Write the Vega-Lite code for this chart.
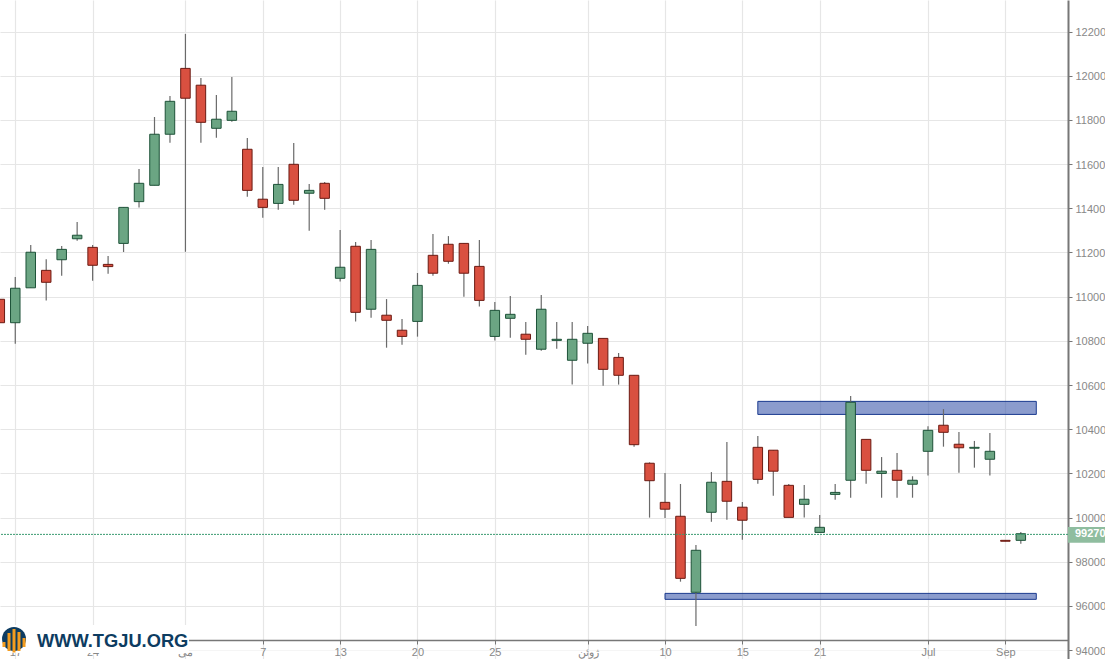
{
"$schema":"https://vega.github.io/schema/vega-lite/v6.json",
"width":1068,"height":659,
"autosize":{"type":"none"},
"padding":{"left":0,"top":0,"right":37,"bottom":0},
"background":"#ffffff",
"view":{"stroke":null},
"config":{"font":"Liberation Sans"},
"datasets":{
"candles":[
{"i":0,"o":109880,"h":109880,"l":108820,"c":108820,"d":"down"},
{"i":1,"o":108820,"h":110890,"l":107870,"c":110380,"d":"up"},
{"i":2,"o":110400,"h":112340,"l":110400,"c":112010,"d":"up"},
{"i":3,"o":111190,"h":111690,"l":109820,"c":110650,"d":"down"},
{"i":4,"o":111670,"h":112290,"l":110950,"c":112140,"d":"up"},
{"i":5,"o":112620,"h":113380,"l":112530,"c":112780,"d":"up"},
{"i":6,"o":112230,"h":112340,"l":110720,"c":111420,"d":"down"},
{"i":7,"o":111460,"h":111840,"l":111040,"c":111360,"d":"down"},
{"i":8,"o":112410,"h":114040,"l":112020,"c":114040,"d":"up"},
{"i":9,"o":114300,"h":115780,"l":114030,"c":115130,"d":"up"},
{"i":10,"o":115040,"h":118130,"l":115040,"c":117350,"d":"up"},
{"i":11,"o":117350,"h":119080,"l":116970,"c":118840,"d":"up"},
{"i":12,"o":120330,"h":121890,"l":112030,"c":118980,"d":"down"},
{"i":13,"o":119570,"h":119900,"l":116970,"c":117890,"d":"down"},
{"i":14,"o":117620,"h":119130,"l":117190,"c":118030,"d":"up"},
{"i":15,"o":117980,"h":119940,"l":117920,"c":118390,"d":"up"},
{"i":16,"o":116670,"h":117180,"l":114520,"c":114810,"d":"down"},
{"i":17,"o":114410,"h":115870,"l":113570,"c":114040,"d":"down"},
{"i":18,"o":114220,"h":115870,"l":113930,"c":115080,"d":"up"},
{"i":19,"o":115990,"h":116950,"l":114160,"c":114360,"d":"down"},
{"i":20,"o":114680,"h":115100,"l":112980,"c":114810,"d":"up"},
{"i":21,"o":115130,"h":115190,"l":113930,"c":114450,"d":"down"},
{"i":22,"o":110830,"h":113020,"l":110680,"c":111330,"d":"up"},
{"i":23,"o":112280,"h":112470,"l":108870,"c":109290,"d":"down"},
{"i":24,"o":109430,"h":112560,"l":109050,"c":112140,"d":"up"},
{"i":25,"o":109160,"h":109890,"l":107690,"c":108930,"d":"down"},
{"i":26,"o":108480,"h":108990,"l":107820,"c":108200,"d":"down"},
{"i":27,"o":108880,"h":111070,"l":108190,"c":110510,"d":"up"},
{"i":28,"o":111870,"h":112840,"l":110950,"c":111060,"d":"down"},
{"i":29,"o":112370,"h":112740,"l":111490,"c":111600,"d":"down"},
{"i":30,"o":112410,"h":112430,"l":110000,"c":111060,"d":"down"},
{"i":31,"o":111370,"h":112560,"l":109550,"c":109830,"d":"down"},
{"i":32,"o":108200,"h":109760,"l":108010,"c":109380,"d":"up"},
{"i":33,"o":109020,"h":110030,"l":108140,"c":109200,"d":"up"},
{"i":34,"o":108300,"h":108850,"l":107370,"c":108070,"d":"down"},
{"i":35,"o":107620,"h":110070,"l":107550,"c":109430,"d":"up"},
{"i":36,"o":108020,"h":108850,"l":107640,"c":108070,"d":"up"},
{"i":37,"o":107120,"h":108850,"l":106020,"c":108070,"d":"up"},
{"i":38,"o":107890,"h":108670,"l":106970,"c":108340,"d":"up"},
{"i":39,"o":108110,"h":108110,"l":105970,"c":106710,"d":"down"},
{"i":40,"o":107250,"h":107450,"l":106020,"c":106440,"d":"down"},
{"i":41,"o":106440,"h":106440,"l":103210,"c":103300,"d":"down"},
{"i":42,"o":102460,"h":102500,"l":100000,"c":101670,"d":"down"},
{"i":43,"o":100690,"h":102020,"l":99980,"c":100380,"d":"down"},
{"i":44,"o":100060,"h":101520,"l":97100,"c":97250,"d":"down"},
{"i":45,"o":96620,"h":98760,"l":95090,"c":98520,"d":"up"},
{"i":46,"o":100240,"h":102060,"l":99810,"c":101600,"d":"up"},
{"i":47,"o":101640,"h":103420,"l":99900,"c":100740,"d":"down"},
{"i":48,"o":100470,"h":100710,"l":99000,"c":99880,"d":"down"},
{"i":49,"o":103180,"h":103690,"l":101530,"c":101730,"d":"down"},
{"i":50,"o":103050,"h":103060,"l":100990,"c":102100,"d":"down"},
{"i":51,"o":101460,"h":101520,"l":100010,"c":100010,"d":"down"},
{"i":52,"o":100600,"h":101470,"l":100000,"c":100830,"d":"up"},
{"i":53,"o":99330,"h":100120,"l":99330,"c":99560,"d":"up"},
{"i":54,"o":101050,"h":101520,"l":100810,"c":101140,"d":"up"},
{"i":55,"o":101690,"h":105500,"l":100900,"c":105220,"d":"up"},
{"i":56,"o":103540,"h":103540,"l":101530,"c":102140,"d":"down"},
{"i":57,"o":102000,"h":102740,"l":100900,"c":102100,"d":"up"},
{"i":58,"o":102140,"h":102920,"l":100900,"c":101690,"d":"down"},
{"i":59,"o":101510,"h":101870,"l":100900,"c":101690,"d":"up"},
{"i":60,"o":103000,"h":104130,"l":101900,"c":103950,"d":"up"},
{"i":61,"o":104180,"h":104910,"l":103210,"c":103860,"d":"down"},
{"i":62,"o":103320,"h":103870,"l":102030,"c":103160,"d":"down"},
{"i":63,"o":103140,"h":103470,"l":102260,"c":103180,"d":"up"},
{"i":64,"o":102640,"h":103830,"l":101900,"c":103000,"d":"up"},
{"i":65,"o":98970,"h":98970,"l":98930,"c":98930,"d":"down"},
{"i":66,"o":98970,"h":99350,"l":98820,"c":99270,"d":"up"}
],
"zones":[
{"a":49,"b":67,"lo":104670,"hi":105260},
{"a":43,"b":67,"lo":96300,"hi":96570}
],
"last":[{"price":99240,"a":69.05,"b":72,"lo":98860,"hi":99570,"t":69.5,"label":"99270"}],
"mask":[{"a":-1,"b":12.23,"lo":93870,"hi":95140}],
"logoDisc":[{"i":0.918,"v":94504}],
"logoBars":[
{"i":0.27,"top":94370,"bot":94143},
{"i":0.595,"top":94776,"bot":93962},
{"i":0.918,"top":94958,"bot":93894},
{"i":1.24,"top":94822,"bot":93962},
{"i":1.565,"top":94550,"bot":94143}
],
"logoText":[{"i":2.405,"v":94143,"label":"WWW.TGJU.ORG"}]
},
"layer":[
{"data":{"name":"zones"},
 "mark":{"type":"rect","fill":"#3e5aac","fillOpacity":0.6,"stroke":"#1a3a8f","strokeWidth":1},
 "encoding":{
  "x":{"field":"a","type":"quantitative","title":null,
   "scale":{"domain":[0.013,69.05],"nice":false,"zero":false,"padding":0},
   "axis":{"orient":"bottom","offset":-19,"title":null,
    "values":[1,6,12,17,22,27,32,38,43,48,53,60,65],
    "labelExpr":"{'1':'17','6':'24','12':'می','17':'7','22':'13','27':'20','32':'25','38':'ژوئن','43':'10','48':'15','53':'21','60':'Jul','65':'Sep'}[''+datum.value]",
    "grid":true,"gridColor":"#e6e6e6","gridWidth":1.2,
    "domainColor":"#777777","domainWidth":1.5,"tickColor":"#777777","tickSize":4,
    "labelColor":"#888888","labelFontSize":11,"labelFont":"Liberation Sans","labelPadding":2,"labelOverlap":false,"labelFlush":false}},
  "x2":{"field":"b"},
  "y":{"field":"lo","type":"quantitative","title":null,
   "scale":{"domain":[93600,123426],"nice":false,"zero":false,"padding":0},
   "axis":{"orient":"right","title":null,
    "values":[94000,96000,98000,100000,102000,104000,106000,108000,110000,112000,114000,116000,118000,120000,122000],
    "labelExpr":"substring(''+datum.value,0,5)",
    "grid":true,"gridColor":{"condition":{"test":"datum.value===94000","value":"#f5f5f5"},"value":"#e6e6e6"},"gridWidth":1.2,
    "domainColor":"#777777","domainWidth":2,"tickColor":"#777777","tickSize":4,
    "labelColor":"#888888","labelFontSize":11,"labelFont":"Liberation Sans","labelPadding":3,"labelOffset":1,"labelOverlap":false,"labelFlush":false}},
  "y2":{"field":"hi"}
 }},
{"data":{"name":"candles"},
 "mark":{"type":"rule","stroke":"#6a6a6a","strokeWidth":1.2},
 "encoding":{
  "x":{"field":"i","type":"quantitative","title":null},
  "y":{"field":"l","type":"quantitative","title":null},
  "y2":{"field":"h"}
 }},
{"data":{"name":"candles"},
 "mark":{"type":"bar","size":9.5,"strokeWidth":1,"orient":"vertical"},
 "encoding":{
  "x":{"field":"i","type":"quantitative","title":null},
  "y":{"field":"o","type":"quantitative","title":null},
  "y2":{"field":"c"},
  "fill":{"field":"d","type":"nominal","legend":null,"scale":{"domain":["up","down"],"range":["#6ba583","#d95040"]}},
  "stroke":{"field":"d","type":"nominal","legend":null,"scale":{"domain":["up","down"],"range":["#1d5238","#6b1a12"]}}
 }},
{"data":{"name":"last"},
 "mark":{"type":"rule","stroke":"#3a9a70","strokeWidth":1,"strokeDash":[2,1]},
 "encoding":{"y":{"field":"price","type":"quantitative","title":null}}},
{"data":{"name":"last"},
 "mark":{"type":"rect","fill":"#8fbd9f"},
 "encoding":{
  "x":{"field":"a","type":"quantitative","title":null},"x2":{"field":"b"},
  "y":{"field":"lo","type":"quantitative","title":null},"y2":{"field":"hi"}
 }},
{"data":{"name":"last"},
 "mark":{"type":"text","align":"left","baseline":"middle","color":"#ffffff","fontSize":11,"fontWeight":"bold","font":"Liberation Sans"},
 "encoding":{
  "x":{"field":"t","type":"quantitative","title":null},
  "y":{"field":"price","type":"quantitative","title":null},
  "text":{"field":"label"}
 }},
{"data":{"name":"mask"},
 "mark":{"type":"rect","fill":"#ffffff"},
 "encoding":{
  "x":{"field":"a","type":"quantitative","title":null},"x2":{"field":"b"},
  "y":{"field":"lo","type":"quantitative","title":null},"y2":{"field":"hi"}
 }},
{"data":{"name":"logoDisc"},
 "mark":{"type":"point","shape":"circle","filled":true,"size":572,"color":"#0d3c61","opacity":1},
 "encoding":{
  "x":{"field":"i","type":"quantitative","title":null},
  "y":{"field":"v","type":"quantitative","title":null}
 }},
{"data":{"name":"logoBars"},
 "mark":{"type":"rule","stroke":"#f39c1f","strokeWidth":3},
 "encoding":{
  "x":{"field":"i","type":"quantitative","title":null},
  "y":{"field":"bot","type":"quantitative","title":null},
  "y2":{"field":"top"}
 }},
{"data":{"name":"logoText"},
 "mark":{"type":"text","align":"left","baseline":"alphabetic","color":"#0d3c61","fontSize":18.3,"fontWeight":"bold","font":"Liberation Sans"},
 "encoding":{
  "x":{"field":"i","type":"quantitative","title":null},
  "y":{"field":"v","type":"quantitative","title":null},
  "text":{"field":"label"}
 }}
]
}
